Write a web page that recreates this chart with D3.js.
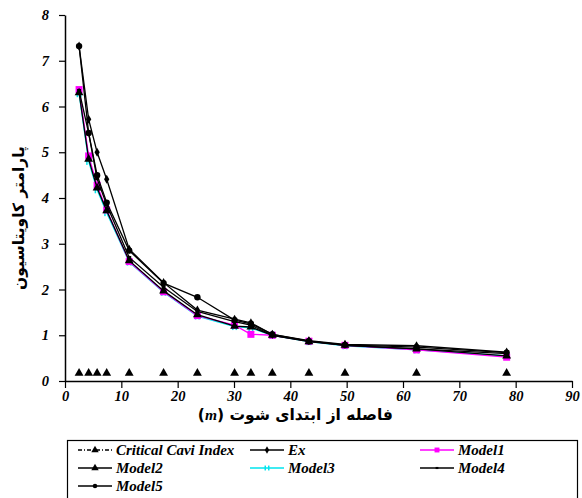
<!DOCTYPE html>
<html><head><meta charset="utf-8">
<script src="https://cdn.jsdelivr.net/npm/d3@7"></script>
<style>body{margin:0;background:#fff}svg{display:block}</style>
</head><body>
<svg id="c" width="582" height="498"></svg>
<script>
const xs = [2.5, 4.2, 5.7, 7.4, 11.4, 17.5, 23.5, 30.1, 33.0, 36.8, 43.3, 49.7, 62.4, 78.4];
const critical = [0.17,0.17,0.17,0.17,0.17,0.17,0.17,0.17,0.17,0.17,0.17,0.17,0.17,0.17];
const ex     = [7.32, 5.72, 5.00, 4.41, 2.88, 2.15, 1.55, 1.35, 1.27, 1.02, 0.88, 0.80, 0.77, 0.63];
const model1 = [6.37, 4.92, 4.28, 3.74, 2.61, 1.95, 1.43, 1.22, 1.02, 1.00, 0.87, 0.78, 0.68, 0.52];
const model2 = [6.30, 4.85, 4.22, 3.72, 2.63, 1.97, 1.45, 1.20, 1.18, 1.00, 0.86, 0.78, 0.70, 0.55];
const model3 = [6.28, 4.80, 4.18, 3.68, 2.60, 1.94, 1.42, 1.19, 1.16, 1.00, 0.86, 0.77, 0.68, 0.55];
const model4 = [6.35, 5.42, 4.42, 3.85, 2.70, 2.05, 1.52, 1.30, 1.22, 1.00, 0.87, 0.78, 0.70, 0.60];
const model5 = [7.32, 5.42, 4.50, 3.90, 2.85, 2.14, 1.83, 1.33, 1.25, 1.02, 0.87, 0.79, 0.74, 0.62];
const xTicks = [0,10,20,30,40,50,60,70,80,90];
const yTicks = [0,1,2,3,4,5,6,7,8];
const legendNames = ["Critical Cavi Index","Ex","Model1","Model2","Model3","Model4","Model5"];
const yTitle = "پارامتر کاویتاسیون";
const xTitle = "فاصله از ابتدای شوت";

const svg = d3.select("#c");
const x = d3.scaleLinear().domain([0,90]).range([65,572]);
const y = d3.scaleLinear().domain([0,8]).range([381,15]);
const tickFont = "'Liberation Serif', serif";

// axes
const xa = svg.append("g").attr("transform","translate(0,381)")
  .call(d3.axisBottom(x).tickValues(xTicks).tickSize(7).tickSizeOuter(0).tickPadding(3));
const ya = svg.append("g").attr("transform","translate(65,0)")
  .call(d3.axisLeft(y).tickValues(yTicks).tickSize(6).tickSizeOuter(0).tickPadding(10));
[xa,ya].forEach(a=>{
  a.select(".domain").attr("stroke","#000").attr("stroke-width",1.5);
  a.selectAll(".tick line").attr("stroke","#000").attr("stroke-width",1.2);
  a.selectAll("text").attr("font-family",tickFont).attr("font-style","italic")
   .attr("font-weight","bold").attr("font-size",14.5).attr("fill","#000");
});

// series
const series = [
  {name:"Model3", vals:model3, color:"#00e5ee", marker:"bar"},
  {name:"Model1", vals:model1, color:"#ff00ff", marker:"square"},
  {name:"Model2", vals:model2, color:"#000", marker:"triangle"},
  {name:"Model4", vals:model4, color:"#000", marker:"dash"},
  {name:"Model5", vals:model5, color:"#000", marker:"circle"},
  {name:"Ex", vals:ex, color:"#000", marker:"diamond"}
];
const line = d3.line().x(d=>x(d[0])).y(d=>y(d[1]));

function drawMarker(g, type, cx, cy, color, size){
  size = size||1;
  if(type==="square") g.append("rect").attr("x",cx-3.5*size).attr("y",cy-3.5*size).attr("width",7*size).attr("height",7*size).attr("fill",color);
  else if(type==="triangle") g.append("path").attr("d",d3.symbol(d3.symbolTriangle, 34*size)()).attr("transform",`translate(${cx},${cy})`).attr("fill",color);
  else if(type==="circle") g.append("circle").attr("cx",cx).attr("cy",cy).attr("r",3.2*size).attr("fill",color);
  else if(type==="diamond") g.append("path").attr("d",d3.symbol(d3.symbolDiamond, 24*size)()).attr("transform",`translate(${cx},${cy})`).attr("fill",color);
  else if(type==="dash") g.append("rect").attr("x",cx-2*size).attr("y",cy-1.5*size).attr("width",4*size).attr("height",3*size).attr("fill",color);
  else if(type==="bar") { g.append("rect").attr("x",cx-2.5).attr("y",cy-3.5*size).attr("width",1.5).attr("height",7*size).attr("fill",color);
                          g.append("rect").attr("x",cx+1).attr("y",cy-3.5*size).attr("width",1.5).attr("height",7*size).attr("fill",color); }
}

series.forEach(s=>{
  const pts = xs.map((v,i)=>[v,s.vals[i]]);
  svg.append("path").datum(pts).attr("d",line).attr("fill","none")
    .attr("stroke",s.color).attr("stroke-width",1.3);
  const g = svg.append("g");
  pts.forEach(p=>drawMarker(g,s.marker,x(p[0]),y(p[1]),s.color));
});
// critical index markers
const cg = svg.append("g");
xs.forEach((v,i)=>drawMarker(cg,"triangle",x(v),y(critical[i]),"#000"));

// titles
svg.append("text").attr("transform","translate(24,218) rotate(-90)")
  .attr("text-anchor","middle").attr("font-family","'DejaVu Sans', sans-serif")
  .attr("font-size",15.5).attr("font-weight","bold").text(yTitle);
const xt = svg.append("text").attr("x",320).attr("y",420).attr("text-anchor","middle")
  .attr("direction","rtl").attr("font-family","'DejaVu Sans', sans-serif").attr("font-size",15.5).attr("font-weight","bold");
xt.append("tspan").text(xTitle+" (");
xt.append("tspan").attr("font-family","'Liberation Serif', serif").attr("font-style","italic").attr("font-weight","bold").text("m");
xt.append("tspan").text(")");
const bb = xt.node().getBBox();
xt.attr("x", 320 + (393 - (bb.x + bb.width)));

// legend
svg.append("rect").attr("x",67.5).attr("y",440.5).attr("width",510).attr("height",70)
  .attr("fill","none").attr("stroke","#000").attr("stroke-width",1.2);
const lpos = [[78,450],[250,450],[420,450],[78,468],[250,468],[420,468],[78,486]];
const lstyle = [
  {color:"#000", marker:"triangle", dash:"4,2,1,2"},
  {color:"#000", marker:"diamond"},
  {color:"#ff00ff", marker:"square"},
  {color:"#000", marker:"triangle"},
  {color:"#00e5ee", marker:"bar"},
  {color:"#000", marker:"dash"},
  {color:"#000", marker:"circle"}
];
legendNames.forEach((n,i)=>{
  const [lx,ly] = lpos[i];
  const st = lstyle[i];
  const g = svg.append("g");
  g.append("line").attr("x1",lx).attr("x2",lx+34).attr("y1",ly).attr("y2",ly)
    .attr("stroke",st.color).attr("stroke-width",1.3).attr("stroke-dasharray",st.dash||null);
  drawMarker(g,st.marker,lx+17,ly,st.color,0.7);
  g.append("text").attr("x",lx+38).attr("y",ly+5).attr("font-family",tickFont)
    .attr("font-style","italic").attr("font-weight","bold").attr("font-size",15).text(n);
});
</script>
</body></html>
